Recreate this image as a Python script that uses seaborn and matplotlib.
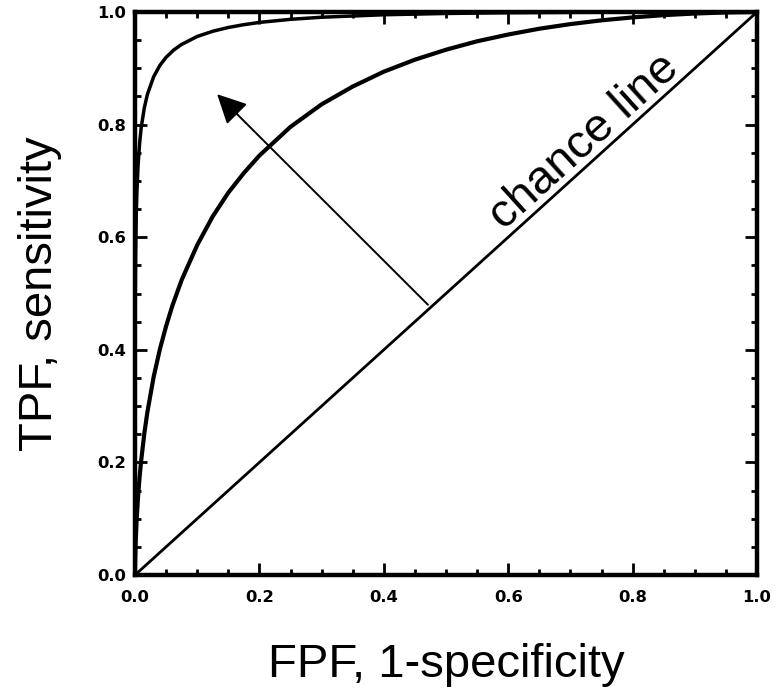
import matplotlib
matplotlib.use("Agg")
import matplotlib.pyplot as plt
import seaborn as sns
import pandas as pd
from matplotlib.ticker import MultipleLocator

# ---- data ----
inner_fpf = [0.0, 0.0002, 0.001, 0.0025, 0.005, 0.0075, 0.01, 0.015, 0.02, 0.03, 0.04,
             0.05, 0.06, 0.075, 0.1, 0.125, 0.15, 0.175, 0.2, 0.25, 0.3, 0.35,
             0.4, 0.45, 0.5, 0.55, 0.6, 0.65, 0.7, 0.75, 0.8, 0.85, 0.9, 0.95, 1.0]
inner_tpf = [0.0, 0.0207, 0.056, 0.0956, 0.141, 0.1757, 0.204, 0.2514, 0.290, 0.352, 0.401,
             0.442, 0.478, 0.524, 0.586, 0.637, 0.679, 0.714, 0.745, 0.796, 0.836, 0.8676,
             0.894, 0.9153, 0.933, 0.948, 0.960, 0.9703, 0.9785, 0.9852, 0.9904, 0.9944,
             0.9973, 0.9992, 1.0]

outer_fpf = [0.0, 0.00002, 0.0001, 0.0005, 0.001, 0.002, 0.003, 0.005, 0.0075, 0.01,
             0.015, 0.02, 0.03, 0.04, 0.05, 0.0625, 0.075, 0.1, 0.125, 0.15, 0.175,
             0.2, 0.25, 0.3, 0.4, 0.5, 0.6, 0.7, 0.85, 1.0]
outer_tpf = [0.0, 0.245, 0.359, 0.501, 0.569, 0.638, 0.6787, 0.729, 0.768, 0.795,
             0.830, 0.854, 0.885, 0.9052, 0.9195, 0.9327, 0.9425, 0.9565, 0.9658, 0.9725, 0.9775,
             0.9815, 0.987, 0.9907, 0.9951, 0.9974, 0.9987, 0.9994, 0.9999, 1.0]

chance_fpf = [0.0, 1.0]
chance_tpf = [0.0, 1.0]

arrow_start = (0.471, 0.48)
arrow_end = (0.132, 0.854)

ticks = [0.0, 0.2, 0.4, 0.6, 0.8, 1.0]
tick_labels = ["0.0", "0.2", "0.4", "0.6", "0.8", "1.0"]

sns.set_style("ticks")
plt.rcParams["font.family"] = ["Liberation Sans", "DejaVu Sans"]
plt.rcParams["text.color"] = "black"
plt.rcParams["axes.labelcolor"] = "black"
plt.rcParams["xtick.color"] = "black"
plt.rcParams["ytick.color"] = "black"
plt.rcParams["axes.edgecolor"] = "black"

W, H, DPI = 782, 695, 100
fig = plt.figure(figsize=(W / DPI, H / DPI), dpi=DPI)
ax = fig.add_axes([135 / W, 1 - 575 / H, (757 - 135) / W, (575 - 12) / H])

df_in = pd.DataFrame({"FPF": inner_fpf, "TPF": inner_tpf})
df_out = pd.DataFrame({"FPF": outer_fpf, "TPF": outer_tpf})
df_ch = pd.DataFrame({"FPF": chance_fpf, "TPF": chance_tpf})

sns.lineplot(data=df_ch, x="FPF", y="TPF", ax=ax, color="black", lw=2.0,
             sort=False, estimator=None)
sns.lineplot(data=df_in, x="FPF", y="TPF", ax=ax, color="black", lw=3.0,
             sort=False, estimator=None)
sns.lineplot(data=df_out, x="FPF", y="TPF", ax=ax, color="black", lw=2.5,
             sort=False, estimator=None)

ax.annotate("", xy=arrow_end, xytext=arrow_start,
            arrowprops=dict(arrowstyle="-|>,head_length=0.5,head_width=0.25",
                            mutation_scale=36, lw=1.4, color="black",
                            shrinkA=0, shrinkB=0))

ax.text(0.735, 0.753, "chance line", rotation=45, transform_rotates_text=True,
        rotation_mode="anchor", ha="center", va="baseline", fontsize=34,
        color="black")

ax.set_xlim(0, 1)
ax.set_ylim(0, 1)
ax.set_xticks(ticks)
ax.set_yticks(ticks)
ax.set_xticklabels(tick_labels, fontfamily="DejaVu Sans", fontweight="bold", fontsize=11.8)
ax.set_yticklabels(tick_labels, fontfamily="DejaVu Sans", fontweight="bold", fontsize=11.8)
ax.xaxis.set_minor_locator(MultipleLocator(0.05))
ax.yaxis.set_minor_locator(MultipleLocator(0.05))
ax.tick_params(which="both", direction="in", top=True, right=True, width=2.0,
               color="black", labelcolor="black")
ax.tick_params(which="major", length=8.5)
ax.tick_params(which="minor", length=4)
ax.tick_params(axis="x", which="major", pad=10.5)
ax.tick_params(axis="y", which="major", pad=6.5)

for s in ax.spines.values():
    s.set_linewidth(3.2)
    s.set_color("black")

ax.set_xlabel("FPF, 1-specificity", fontsize=34, labelpad=28, color="black")
ax.set_ylabel("TPF, sensitivity", fontsize=34, labelpad=25, color="black")

fig.savefig("out.png", dpi=DPI)
